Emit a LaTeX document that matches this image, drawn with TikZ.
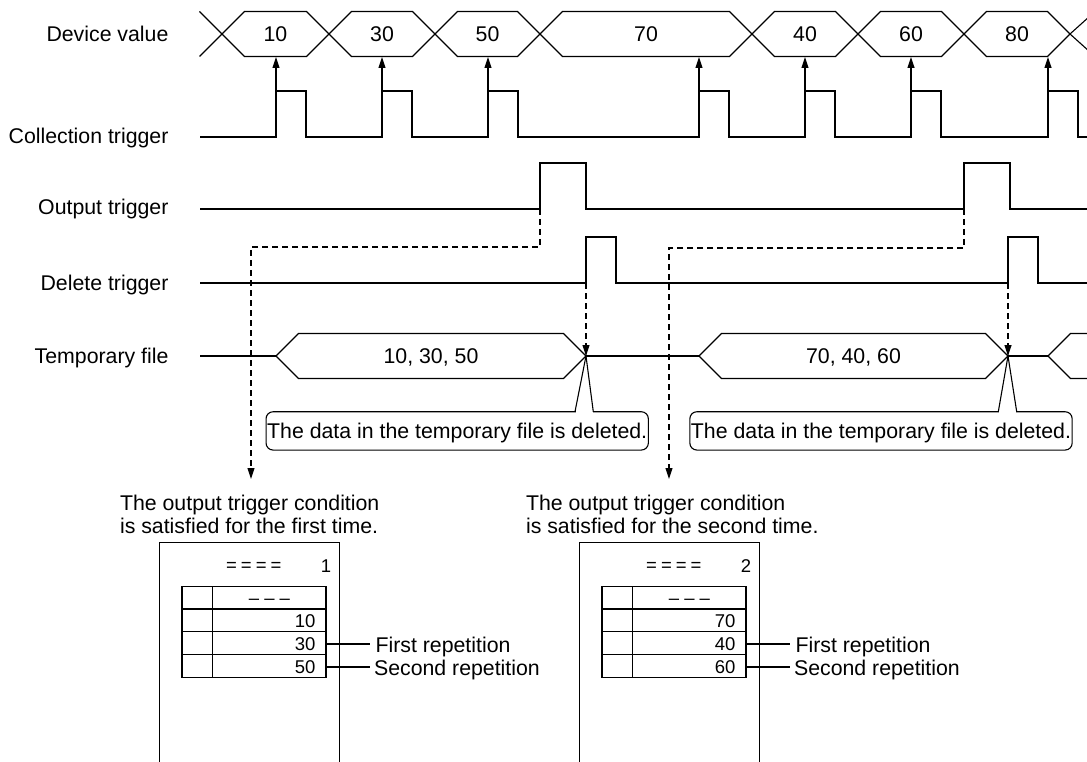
\documentclass[tikz,border=0pt]{standalone}
\usepackage{fontspec}
\setmainfont{Liberation Sans}
\usetikzlibrary{arrows.meta}
\begin{document}
\begin{tikzpicture}[x=1pt,y=-1pt, line width=1.1pt,
  font=\fontsize{21.3}{23}\selectfont,
  lbl/.style={inner sep=0pt, text height=15.2pt, text depth=0pt},
  small/.style={inner sep=0pt, font=\fontsize{18.5}{20}\selectfont, text height=13.3pt, text depth=0pt},
  arr/.style={-{Triangle[length=11pt,width=7pt]}},
  dsh/.style={dash pattern=on 6pt off 4pt},
  callout/.style={draw, rounded corners=7pt, minimum width=382.3pt, minimum height=38.3pt, inner sep=0pt, fill=white, text height=15.2pt, text depth=0pt},
  capt/.style={anchor=north west, inner sep=0pt, align=left},
  sheet/.style={draw, minimum width=180pt, minimum height=240pt, anchor=north west, inner sep=0pt},
]
\fill[white] (0,0) rectangle (1087,762);
\useasboundingbox (0,0) rectangle (1087,762);
\clip (0,0) rectangle (1087,762);

% ---- row labels
\node[lbl,anchor=east] (lDev) at (169,34) {Device value};
\node[lbl,anchor=east] (lCol) at (169,136) {Collection trigger};
\node[lbl,anchor=east] (lOut) at (169,207) {Output trigger};
\node[lbl,anchor=east] (lDel) at (169,283) {Delete trigger};
\node[lbl,anchor=east] (lTmp) at (169,356) {Temporary file};

% ---- device value bus
\draw (199.5,11.5) -- (222,34) -- (199.5,56.5);
\foreach \a/\b/\v in {222/329/10, 329/435/30, 435/540/50, 540/752/70, 752/858/40, 858/964/60, 964/1070/80}{
  \draw ({\a},34) -- ({\a+22.5},11.5) -- ({\b-22.5},11.5) -- ({\b},34) -- ({\b-22.5},56.5) -- ({\a+22.5},56.5) -- cycle;
  \node[lbl] (dv\v) at ({(\a+\b)/2},34) {\v};
}
\draw (1095,11.5) -- (1070,34) -- (1095,56.5);

% ---- collection trigger
\draw (200,137) -- (276,137) -- (276,91) -- (306,91) -- (306,137)
  -- (382,137) -- (382,91) -- (412,91) -- (412,137)
  -- (488,137) -- (488,91) -- (518,91) -- (518,137)
  -- (699,137) -- (699,91) -- (729,91) -- (729,137)
  -- (805,137) -- (805,91) -- (835,91) -- (835,137)
  -- (911,137) -- (911,91) -- (941,91) -- (941,137)
  -- (1048,137) -- (1048,91) -- (1078,91) -- (1078,137) -- (1095,137);
\foreach \x in {276,382,488,699,805,911,1048}{
  \coordinate (cu\x) at (\x,91);
  \coordinate (ch\x) at (\x,57);
  \draw[arr] (cu\x) -- (ch\x);
}

% ---- output trigger
\draw (200,209) -- (540,209) -- (540,163) -- (586,163) -- (586,209)
  -- (964,209) -- (964,163) -- (1010,163) -- (1010,209) -- (1095,209);
% ---- delete trigger
\draw (200,283) -- (586,283) -- (586,237) -- (616,237) -- (616,283)
  -- (1008,283) -- (1008,237) -- (1038,237) -- (1038,283) -- (1095,283);

% ---- temporary file
\draw (200,356) -- (276,356);
\draw (276,356) -- (298.5,333.5) -- (563.5,333.5) -- (586,356) -- (563.5,378.5) -- (298.5,378.5) -- cycle;
\node[lbl] (tf1) at (431,356) {10, 30, 50};
\draw (586,356) -- (699,356);
\draw (699,356) -- (721.5,333.5) -- (985.5,333.5) -- (1008,356) -- (985.5,378.5) -- (721.5,378.5) -- cycle;
\node[lbl] (tf2) at (853.5,356) {70, 40, 60};
\draw (1008,356) -- (1048,356);
\draw (1095,333.5) -- (1070.5,333.5) -- (1048,356) -- (1070.5,378.5) -- (1095,378.5);

% ---- key points
\coordinate (or1) at (540,209);
\coordinate (or2) at (964,209);
\coordinate (dr1) at (586,283);
\coordinate (dr2) at (1008,283);
\coordinate (ap1) at (586,356);
\coordinate (ap2) at (1008,356);
\coordinate (ar1) at (251,479);
\coordinate (ar2) at (669,479);

% ---- dashed connectors
\draw[dsh,arr] (dr1) -- (ap1);
\draw[dsh,arr] (dr2) -- (ap2);
\draw[dsh,arr] (or1) -- ++(0,38) -| (ar1);
\draw[dsh,arr] (or2) -- ++(0,39) -| (ar2);

% ---- callouts
\node[callout] (cb1) at (457.2,430.9) {The data in the temporary file is deleted.};
\node[callout] (cb2) at (881,430.9) {The data in the temporary file is deleted.};
\coordinate (p1a) at (575,411.7);
\coordinate (p1b) at (593.3,411.7);
\coordinate (p2a) at (998.3,411.7);
\coordinate (p2b) at (1016.7,411.7);
\fill[white] (575.6,409.5) rectangle (592.7,414);
\fill[white] (998.9,409.5) rectangle (1016.1,414);
\draw (p1a) -- (ap1) -- (p1b);
\draw (p2a) -- (ap2) -- (p2b);

% ---- captions
\node[capt] (cap1) at (119.5,494.5) {The output trigger condition\\is satisfied for the first time.};
\node[capt] (cap2) at (525.5,494.5) {The output trigger condition\\is satisfied for the second time.};

% ---- output sheets
\foreach \s/\n/\va/\vb/\vc in {0/1/10/30/50, 420/2/70/40/60}{
  \begin{scope}[xshift=\s pt]
    \node[sheet] (sh\n) at (159,542) {};
    \node[small] (eq\n) at (253.8,565) {=\kern4pt=\kern4pt=\kern4pt=};
    \node[small] (no\n) at (326,565.5) {\n};
    \draw (182,586.5) rectangle (326,677.5);
    \draw (182,609) -- (326,609);
    \draw (182,631.7) -- (326,631.7);
    \draw (182,654.3) -- (326,654.3);
    \draw (212.7,586.5) -- (212.7,677.5);
    \node[small] (hd\n) at (269.4,598) {--\kern5pt--\kern5pt--};
    \node[small,anchor=east] (ra\n) at (316,621) {\va};
    \node[small,anchor=east] (rb\n) at (316,644) {\vb};
    \node[small,anchor=east] (rc\n) at (316,667) {\vc};
    \coordinate (lb\n) at (326,644);
    \coordinate (lc\n) at (326,667);
    \coordinate (eb\n) at (369.5,644);
    \coordinate (ec\n) at (369.5,667);
    \node[lbl,anchor=west] (fr\n) at (375,645) {First repetition};
    \node[lbl,anchor=west] (sr\n) at (373.5,667.5) {Second repetition};
    \draw (lb\n) -- (eb\n);
    \draw (lc\n) -- (ec\n);
  \end{scope}
}
\end{tikzpicture}
\end{document}
